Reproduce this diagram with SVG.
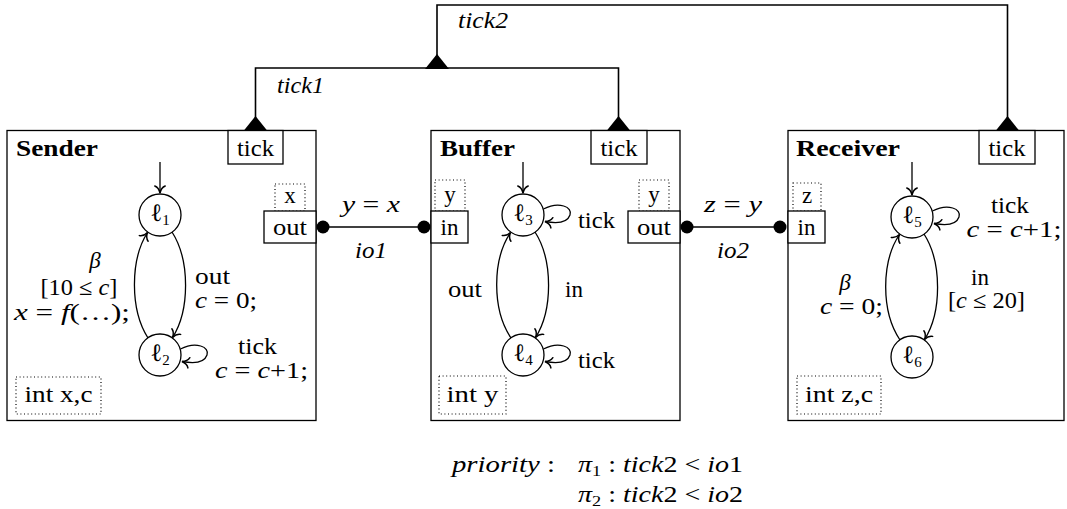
<svg xmlns="http://www.w3.org/2000/svg" width="1067" height="509" viewBox="0 0 1067 509" font-family="Liberation Serif, Times New Roman, serif">
  <style>
    text { font-family: 'Liberation Serif', 'Times New Roman', Times, serif; font-size: 23px; fill: #000; }
    .c { text-anchor: middle; }
    .e { text-anchor: end; }
    .i { font-style: italic; }
    .b { font-weight: bold; }
    .sub { font-size: 15px; }
    .ell { font-size: 25px; }
    .box { fill: #fff; stroke: #000; stroke-width: 1.3; }
    .dot { fill: none; stroke: #000; stroke-width: 1.2; stroke-dasharray: 1 2.6; }
    .state { fill: #fff; stroke: #000; stroke-width: 1.3; }
    .edge { fill: none; stroke: #000; stroke-width: 1.3; marker-end: url(#to); }
    .wire { fill: none; stroke: #000; stroke-width: 1.6; }
    .tri { fill: #000; }
    .pin { fill: #000; }
  </style>
  <defs>
    <marker id="to" viewBox="-8 -7 10 14" markerWidth="10" markerHeight="14" refX="0" refY="0" orient="auto" markerUnits="userSpaceOnUse">
      <path d="M-7,-5.2 C-5.8,-2 -1.8,-0.4 0,0 C-1.8,0.4 -5.8,2 -7,5.2" fill="none" stroke="#000" stroke-width="1.5" stroke-linecap="round"/>
    </marker>
  </defs>

  <!-- synchronisation wires between the components -->
  <g id="connectors">
    <!-- tick1: Sender.tick with Buffer.tick -->
    <polyline class="wire" points="255.5,118 255.5,68 618.5,68 618.5,118"/>
    <polygon class="tri" points="243.5,131 267.5,131 255.5,116"/>
    <polygon class="tri" points="606.5,131 630.5,131 618.5,116"/>
    <text class="i" x="277" y="93" textLength="47" lengthAdjust="spacingAndGlyphs">tick1</text>
    <!-- tick2: tick1 with Receiver.tick -->
    <polyline class="wire" points="437,56 437,5 1007.5,5 1007.5,118"/>
    <polygon class="tri" points="425,69 449,69 437,54"/>
    <polygon class="tri" points="995.5,131 1019.5,131 1007.5,116"/>
    <text class="i" x="458" y="28" textLength="50" lengthAdjust="spacingAndGlyphs">tick2</text>
    <!-- io1: Sender.out with Buffer.in -->
    <line class="wire" x1="323" y1="227" x2="424" y2="227"/>
    <circle class="pin" cx="323" cy="227" r="6.5"/>
    <circle class="pin" cx="424" cy="227" r="6.5"/>
    <text class="c" x="371" y="212" textLength="58" lengthAdjust="spacingAndGlyphs"><tspan class="i">y</tspan> = <tspan class="i">x</tspan></text>
    <text class="c i" x="371" y="258" textLength="32" lengthAdjust="spacingAndGlyphs">io1</text>
    <!-- io2: Buffer.out with Receiver.in -->
    <line class="wire" x1="687" y1="227" x2="780" y2="227"/>
    <circle class="pin" cx="687" cy="227" r="6.5"/>
    <circle class="pin" cx="780" cy="227" r="6.5"/>
    <text class="c" x="733" y="212" textLength="58" lengthAdjust="spacingAndGlyphs"><tspan class="i">z</tspan> = <tspan class="i">y</tspan></text>
    <text class="c i" x="733" y="258" textLength="32" lengthAdjust="spacingAndGlyphs">io2</text>
  </g>

  <!-- Sender component -->
  <g id="sender">
    <rect class="box" x="7" y="130.5" width="309" height="290"/>
    <text class="b" x="16" y="156" textLength="82" lengthAdjust="spacingAndGlyphs">Sender</text>
    <rect class="box" x="228" y="130.5" width="55" height="33.5"/>
    <text class="c" x="255.5" y="156" textLength="37" lengthAdjust="spacingAndGlyphs">tick</text>
    <rect class="dot" x="275" y="184" width="30" height="27"/>
    <text class="c" x="290" y="203">x</text>
    <rect class="box" x="264" y="211" width="52" height="32"/>
    <text class="c" x="290" y="235" textLength="34" lengthAdjust="spacingAndGlyphs">out</text>
    <rect class="dot" x="16" y="377" width="85" height="37"/>
    <text class="c" x="58.5" y="402" textLength="68" lengthAdjust="spacingAndGlyphs">int x,c</text>
    <g id="l1">
      <circle class="state" cx="160" cy="215" r="21"/>
      <text class="c" x="160" y="221"><tspan class="ell">ℓ</tspan><tspan class="sub" dy="4">1</tspan></text>
    </g>
    <g id="l2">
      <circle class="state" cx="160" cy="355" r="21"/>
      <text class="c" x="160" y="361"><tspan class="ell">ℓ</tspan><tspan class="sub" dy="4">2</tspan></text>
    </g>
    <g id="sender-edges">
      <path class="edge" d="M160,162 L160,193"/>
      <path class="edge" d="M172,232 C190,260 190,310 172.5,337.5"/>
      <path class="edge" d="M148,338 C130,310 130,260 147.5,232.5"/>
      <path class="edge" d="M180.5,349 C196,341 210,347 207,355 C204.5,362 195,364 182,361.5"/>
      <text class="c i" x="95" y="268">β</text>
      <text class="c" x="79" y="295" textLength="77" lengthAdjust="spacingAndGlyphs">[10 ≤ <tspan class="i">c</tspan>]</text>
      <text class="e" x="130" y="320" textLength="116" lengthAdjust="spacingAndGlyphs"><tspan class="i">x</tspan> = <tspan class="i">f</tspan>(…);</text>
      <text x="195" y="284" textLength="35" lengthAdjust="spacingAndGlyphs">out</text>
      <text x="195" y="308" textLength="62" lengthAdjust="spacingAndGlyphs"><tspan class="i">c</tspan> = 0;</text>
      <text class="c" x="257.5" y="354" textLength="39" lengthAdjust="spacingAndGlyphs">tick</text>
      <text class="c" x="261.5" y="378" textLength="93" lengthAdjust="spacingAndGlyphs"><tspan class="i">c</tspan> = <tspan class="i">c</tspan>+1;</text>
    </g>
  </g>

  <!-- Buffer component -->
  <g id="buffer">
    <rect class="box" x="431" y="130.5" width="249" height="290"/>
    <text class="b" x="440" y="156" textLength="75" lengthAdjust="spacingAndGlyphs">Buffer</text>
    <rect class="box" x="591" y="130.5" width="56" height="33.5"/>
    <text class="c" x="619" y="156" textLength="37" lengthAdjust="spacingAndGlyphs">tick</text>
    <rect class="dot" x="435" y="180" width="30" height="31"/>
    <text class="c" x="450" y="202">y</text>
    <rect class="box" x="431" y="211" width="37" height="32"/>
    <text class="c" x="449.5" y="235">in</text>
    <rect class="dot" x="639" y="180" width="30" height="31"/>
    <text class="c" x="654" y="202">y</text>
    <rect class="box" x="628" y="211" width="52" height="32"/>
    <text class="c" x="654" y="235" textLength="34" lengthAdjust="spacingAndGlyphs">out</text>
    <rect class="dot" x="439" y="376" width="67" height="38"/>
    <text class="c" x="472.5" y="402" textLength="52" lengthAdjust="spacingAndGlyphs">int y</text>
    <g id="l3">
      <circle class="state" cx="523" cy="215" r="21"/>
      <text class="c" x="523" y="221"><tspan class="ell">ℓ</tspan><tspan class="sub" dy="4">3</tspan></text>
    </g>
    <g id="l4">
      <circle class="state" cx="523" cy="355" r="21"/>
      <text class="c" x="523" y="361"><tspan class="ell">ℓ</tspan><tspan class="sub" dy="4">4</tspan></text>
    </g>
    <g id="buffer-edges">
      <path class="edge" d="M523,162 L523,193"/>
      <path class="edge" d="M535,232 C553,260 553,310 535.5,337.5"/>
      <path class="edge" d="M511,338 C492,310 492,260 510.5,232.5"/>
      <path class="edge" d="M543.5,209 C559,201 573,207 570,215 C567.5,222 558,224 545,221.5"/>
      <path class="edge" d="M543.5,349 C559,341 573,347 570,355 C567.5,362 558,364 545,361.5"/>
      <text x="578" y="228" textLength="37" lengthAdjust="spacingAndGlyphs">tick</text>
      <text x="578" y="368" textLength="37" lengthAdjust="spacingAndGlyphs">tick</text>
      <text x="565" y="297">in</text>
      <text x="448" y="297" textLength="34" lengthAdjust="spacingAndGlyphs">out</text>
    </g>
  </g>

  <!-- Receiver component -->
  <g id="receiver">
    <rect class="box" x="788" y="130.5" width="276" height="290"/>
    <text class="b" x="796" y="156" textLength="104" lengthAdjust="spacingAndGlyphs">Receiver</text>
    <rect class="box" x="979" y="130.5" width="56" height="33.5"/>
    <text class="c" x="1007" y="156" textLength="37" lengthAdjust="spacingAndGlyphs">tick</text>
    <rect class="dot" x="793" y="183" width="28" height="28"/>
    <text class="c" x="807" y="203">z</text>
    <rect class="box" x="788" y="211" width="37" height="32"/>
    <text class="c" x="806.5" y="235">in</text>
    <rect class="dot" x="797" y="376" width="84" height="38"/>
    <text class="c" x="839" y="402" textLength="68" lengthAdjust="spacingAndGlyphs">int z,c</text>
    <g id="l5">
      <circle class="state" cx="912" cy="217" r="21"/>
      <text class="c" x="912" y="223"><tspan class="ell">ℓ</tspan><tspan class="sub" dy="4">5</tspan></text>
    </g>
    <g id="l6">
      <circle class="state" cx="912" cy="357" r="21"/>
      <text class="c" x="912" y="363"><tspan class="ell">ℓ</tspan><tspan class="sub" dy="4">6</tspan></text>
    </g>
    <g id="receiver-edges">
      <path class="edge" d="M912,162 L912,195"/>
      <path class="edge" d="M924,234 C942,262 942,312 924.5,339.5"/>
      <path class="edge" d="M900,340 C881,312 881,262 899.5,234.5"/>
      <path class="edge" d="M932.5,211 C948,203 962,209 959,217 C956.5,224 947,226 934,223.5"/>
      <text class="c" x="1010" y="213" textLength="38" lengthAdjust="spacingAndGlyphs">tick</text>
      <text class="c" x="1014" y="237" textLength="95" lengthAdjust="spacingAndGlyphs"><tspan class="i">c</tspan> = <tspan class="i">c</tspan>+1;</text>
      <text class="c" x="980" y="285">in</text>
      <text class="c" x="986.5" y="308" textLength="77" lengthAdjust="spacingAndGlyphs">[<tspan class="i">c</tspan> ≤ 20]</text>
      <text class="c i" x="845" y="290">β</text>
      <text class="e" x="883" y="314" textLength="63" lengthAdjust="spacingAndGlyphs"><tspan class="i">c</tspan> = 0;</text>
    </g>
  </g>

  <!-- priority rules -->
  <g id="priority">
    <text x="452" y="472" textLength="103" lengthAdjust="spacingAndGlyphs"><tspan class="i">priority</tspan> :</text>
    <text x="578" y="472" textLength="165" lengthAdjust="spacingAndGlyphs"><tspan class="i">π</tspan><tspan class="sub" dy="4">1</tspan><tspan dy="-4"> : </tspan><tspan class="i">tick</tspan>2 &lt; <tspan class="i">io</tspan>1</text>
    <text x="578" y="502" textLength="165" lengthAdjust="spacingAndGlyphs"><tspan class="i">π</tspan><tspan class="sub" dy="4">2</tspan><tspan dy="-4"> : </tspan><tspan class="i">tick</tspan>2 &lt; <tspan class="i">io</tspan>2</text>
  </g>
</svg>
